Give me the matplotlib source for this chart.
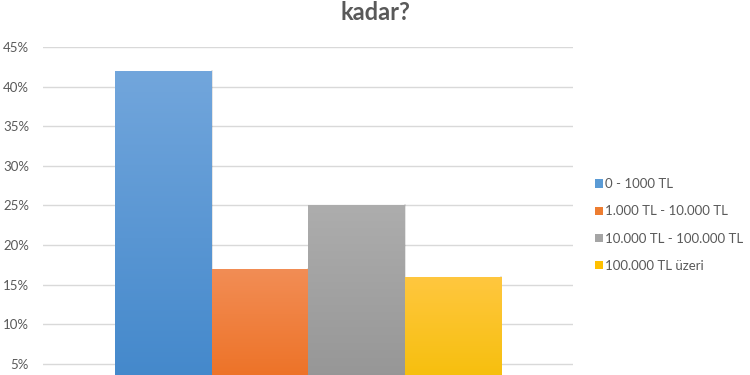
import numpy as np
import matplotlib
matplotlib.use("Agg")
import matplotlib.pyplot as plt
from matplotlib.colors import LinearSegmentedColormap
from matplotlib.ticker import FuncFormatter
from matplotlib.patches import Patch

categories = ["0 - 1000 TL", "1.000 TL - 10.000 TL", "10.000 TL - 100.000 TL", "100.000 TL üzeri"]
values = [42, 17, 25, 16]
yticks = [5, 10, 15, 20, 25, 30, 35, 40, 45]
title_text = "kadar?"
top_colors = ["#72A6DC", "#F28D55", "#ADADAD", "#FFC73F"]
bottom_colors = ["#4086CA", "#EC6C1C", "#939393", "#F4BD00"]
legend_colors = ["#5B9BD5", "#ED7D31", "#A5A5A5", "#FFC000"]

plt.rcParams['font.family'] = ['Lato', 'DejaVu Sans']
fig = plt.figure(figsize=(7.5, 3.75), dpi=100)
ax = fig.add_axes([43/750, 0, 530/750, (375-47)/375])
ymin, ymax = 3.61, 45.0

w = 386/530/4
xs = (np.arange(4) - 1.5) * w
bars = ax.bar(xs, values, width=w, bottom=0, color=legend_colors, zorder=3, linewidth=0)
for b, tc, bc in zip(bars, top_colors, bottom_colors):
    x0 = b.get_x(); x1 = x0 + b.get_width(); h = b.get_height()
    cmap = LinearSegmentedColormap.from_list("g", [bc, tc])
    grad = np.linspace(0, 1, 256).reshape(-1, 1)
    im = ax.imshow(grad, cmap=cmap, extent=[x0, x1, 0, h], origin='lower',
                   aspect='auto', zorder=4)
    im.set_clip_path(b)
    ax.plot([x1, x1], [ymin, h], color="#000000", alpha=0.12, lw=1.2, zorder=3.5)

ax.set_aspect('auto')
ax.set_xlim(-0.5, 0.5)
ax.set_ylim(ymin, ymax)

ax.set_yticks(yticks)
ax.yaxis.set_major_formatter(FuncFormatter(lambda v, p: f"{int(v)}%"))
ax.grid(axis='y', color="#D9D9D9", lw=1.0, zorder=0)
ax.set_xticks([])
for s in ax.spines.values():
    s.set_visible(False)
ax.tick_params(axis='y', length=0, pad=10, labelsize=9.5, labelcolor="#595959")
for lbl in ax.get_yticklabels():
    lbl.set_clip_on(False)

fig.text(375/750, 1 - 13/375, title_text, ha='center', va='center',
         fontsize=17, fontweight='bold', color="#595959")

handles = [Patch(facecolor=c, edgecolor='none') for c in legend_colors]
leg = fig.legend(handles, categories, loc='center left',
                 bbox_to_anchor=(583/750, 1 - 225/375), frameon=False,
                 fontsize=9.5, labelcolor="#595959", handlelength=0.6,
                 handleheight=0.6, handletextpad=0.2, labelspacing=1.15)

fig.savefig("out.png", dpi=100)
